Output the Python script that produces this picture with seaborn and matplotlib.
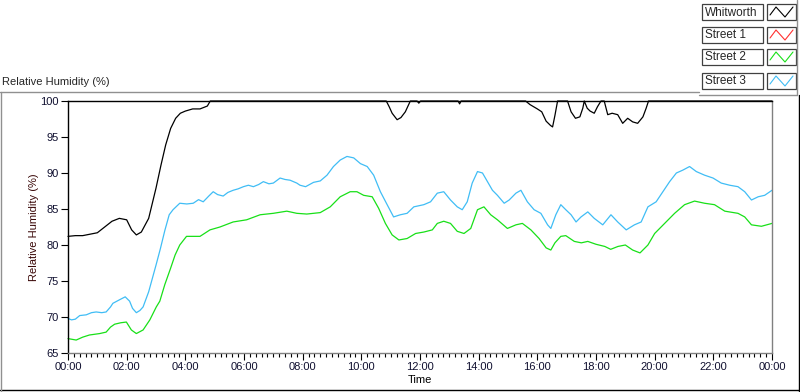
import matplotlib
matplotlib.use("Agg")
import matplotlib.pyplot as plt
import seaborn as sns
from matplotlib.lines import Line2D
from matplotlib.patches import Rectangle
from matplotlib.ticker import MultipleLocator

# ---- data (time in hours, humidity in %) ----
whit_t = [0, 0.25, 0.5, 0.75, 1.0, 1.25, 1.5, 1.75, 2.0, 2.17, 2.33, 2.5, 2.75, 3.0,
          3.17, 3.33, 3.5, 3.67, 3.83, 4.0, 4.25, 4.5, 4.75, 4.85, 10.85, 10.95, 11.05,
          11.22, 11.35, 11.5, 11.67, 11.9, 11.96, 12.02, 13.3, 13.35, 13.4, 15.6, 15.75,
          16.0, 16.15, 16.3, 16.45, 16.52, 16.6, 16.69, 17.03, 17.15, 17.3, 17.45, 17.55,
          17.6, 17.7, 17.8, 17.94, 18.05, 18.17, 18.28, 18.4, 18.55, 18.74, 18.91, 19.08,
          19.25, 19.42, 19.6, 19.71, 19.79, 24]
whit_v = [81.2, 81.3, 81.3, 81.5, 81.7, 82.5, 83.3, 83.7, 83.5, 82.1, 81.4, 81.8, 83.7, 87.9,
          91.1, 93.9, 96.2, 97.6, 98.3, 98.6, 98.9, 98.9, 99.3, 100, 100, 99.2, 98.3,
          97.4, 97.7, 98.5, 100, 100, 99.7, 100, 100, 99.6, 100, 100, 99.5,
          98.9, 98.5, 97.2, 96.6, 96.4, 98.0, 100, 100, 98.5, 97.6, 97.8, 99.0,
          100, 99.0, 98.6, 98.3, 99.2, 100, 100, 98.1, 98.3, 98.1, 96.9, 97.6,
          97.1, 96.9, 97.8, 99.0, 100, 100]

street1_t = []
street1_v = []

street2_t = [0, 0.28, 0.5, 0.73, 1.08, 1.3, 1.45, 1.59, 1.8, 1.99, 2.16, 2.33, 2.56, 2.79,
             3.01, 3.13, 3.3, 3.5, 3.65, 3.81, 4.04, 4.5, 4.84, 5.18, 5.63, 6.09, 6.55,
             7.0, 7.46, 7.8, 8.14, 8.6, 8.94, 9.28, 9.62, 9.85, 10.08, 10.37, 10.59,
             10.82, 11.05, 11.28, 11.56, 11.85, 12.13, 12.42, 12.59, 12.81, 13.04, 13.27,
             13.5, 13.73, 13.96, 14.18, 14.41, 14.64, 14.98, 15.27, 15.49, 15.78, 16.06,
             16.3, 16.46, 16.6, 16.8, 16.97, 17.26, 17.5, 17.72, 18.0, 18.3, 18.5, 18.75,
             19.0, 19.25, 19.5, 19.77, 20.0, 20.34, 20.68, 21.02, 21.36, 21.7, 22.04,
             22.39, 22.84, 23.07, 23.3, 23.64, 24]
street2_v = [67.0, 66.8, 67.2, 67.5, 67.7, 67.9, 68.6, 69.0, 69.2, 69.3, 68.2, 67.7, 68.2, 69.6,
             71.4, 72.2, 74.5, 76.8, 78.6, 80.0, 81.2, 81.2, 82.1, 82.5, 83.2, 83.5, 84.2,
             84.4, 84.7, 84.4, 84.3, 84.5, 85.3, 86.7, 87.4, 87.4, 86.9, 86.7, 85.1,
             83.0, 81.4, 80.7, 80.9, 81.6, 81.8, 82.1, 83.0, 83.3, 83.0, 81.9,
             81.6, 82.3, 84.9, 85.3, 84.2, 83.5, 82.3, 82.8, 83.0, 82.1, 80.9,
             79.6, 79.3, 80.3, 81.2, 81.3, 80.5, 80.3, 80.5, 80.1, 79.8, 79.4, 79.8,
             80.0, 79.3, 78.9, 80.0, 81.6, 83.0, 84.4, 85.6, 86.1, 85.8, 85.6,
             84.7, 84.4, 83.9, 82.8, 82.6, 83.0]

street3_t = [0, 0.12, 0.25, 0.4, 0.62, 0.8, 0.96, 1.15, 1.3, 1.45, 1.53, 1.76, 1.95, 2.1, 2.2,
             2.33, 2.45, 2.56, 2.75, 3.0, 3.15, 3.3, 3.45, 3.58, 3.81, 4.05, 4.27, 4.45,
             4.61, 4.8, 4.95, 5.1, 5.29, 5.45, 5.63, 5.8, 5.98, 6.15, 6.32, 6.5, 6.66,
             6.85, 7.0, 7.23, 7.4, 7.57, 7.8, 7.91, 8.1, 8.37, 8.6, 8.83, 9.05, 9.28,
             9.51, 9.74, 9.97, 10.2, 10.42, 10.65, 10.88, 11.1, 11.33, 11.56, 11.79,
             12.13, 12.36, 12.59, 12.81, 13.04, 13.27, 13.44, 13.61, 13.78, 13.96, 14.13,
             14.3, 14.47, 14.64, 14.87, 15.04, 15.27, 15.44, 15.66, 15.89, 16.12, 16.35,
             16.46, 16.63, 16.8, 16.97, 17.15, 17.32, 17.49, 17.72, 17.94, 18.23, 18.51,
             18.74, 19.03, 19.31, 19.54, 19.77, 20.05, 20.28, 20.51, 20.74, 20.96, 21.19,
             21.42, 21.7, 21.99, 22.27, 22.56, 22.84, 23.07, 23.3, 23.53, 23.75, 24]
street3_v = [69.8, 69.6, 69.7, 70.2, 70.3, 70.6, 70.7, 70.6, 70.7, 71.4, 71.9, 72.4, 72.8, 72.2, 71.2,
             70.6, 70.9, 71.4, 73.5, 77.2, 79.5, 82.0, 84.2, 84.9, 85.8, 85.7, 85.8, 86.3,
             86.0, 86.8, 87.4, 87.0, 86.8, 87.3, 87.6, 87.8, 88.1, 88.3, 88.1, 88.4, 88.8,
             88.5, 88.6, 89.3, 89.1, 89.0, 88.6, 88.3, 88.1, 88.7, 88.9, 89.7, 90.9, 91.8,
             92.3, 92.1, 91.3, 90.9, 89.7, 87.4, 85.6, 83.9, 84.2, 84.4, 85.3,
             85.6, 86.0, 87.2, 87.4, 86.25, 85.3, 84.9, 86.0, 88.6, 90.2, 90.0,
             88.8, 87.6, 86.9, 85.8, 86.25, 87.2, 87.6, 86.0, 84.9, 84.4, 82.8,
             82.3, 84.2, 85.6, 84.9, 84.2, 83.2, 83.9, 84.6, 83.7, 82.8, 84.2,
             83.2, 82.1, 82.8, 83.2, 85.3, 86.0, 87.4, 88.8, 90.0, 90.4, 90.9,
             90.2, 89.7, 89.3, 88.6, 88.3, 88.1, 87.4, 86.25, 86.7, 86.9, 87.6]

series_names = ["Whitworth", "Street 1", "Street 2", "Street 3"]
series_colors = ["#000000", "#ff3030", "#18e018", "#40bdf5"]
tick_hours = list(range(0, 25, 2))
tick_labels = ["00:00", "02:00", "04:00", "06:00", "08:00", "10:00", "12:00",
               "14:00", "16:00", "18:00", "20:00", "22:00", "00:00"]

sns.set_style("white")
plt.rcParams["font.family"] = ["Liberation Sans", "DejaVu Sans"]
plt.rcParams["font.size"] = 8

W, H = 800, 392
fig = plt.figure(figsize=(W / 100, H / 100), dpi=100)
ax = fig.add_axes([68 / W, 1 - 353 / H, (772 - 68) / W, (353 - 101) / H])


def px(x, y):
    return x / W, 1 - y / H


data = [(street3_t, street3_v), (street2_t, street2_v), (street1_t, street1_v), (whit_t, whit_v)]
colors = [series_colors[3], series_colors[2], series_colors[1], series_colors[0]]
for (t, v), c in zip(data, colors):
    if len(t):
        sns.lineplot(x=t, y=v, ax=ax, color=c, linewidth=0.9, sort=False,
                     estimator=None, clip_on=False)

ax.set_xlim(0, 24)
ax.set_ylim(65, 100)
ax.set_xticks(tick_hours)
ax.set_xticklabels(tick_labels)
ax.xaxis.set_minor_locator(MultipleLocator(0.2))
ax.set_yticks(range(65, 101, 5))
ax.tick_params(axis="both", which="major", direction="out", length=5, width=0.8,
               color="black", labelcolor="#101030", labelsize=8, pad=1.5)
ax.tick_params(axis="x", which="minor", direction="out", length=3, width=0.8,
               color="black", bottom=True)
ax.tick_params(axis="x", which="major", bottom=True)
ax.tick_params(axis="y", which="major", left=True)

ax.spines["left"].set_color("black")
ax.spines["top"].set_color("black")
ax.spines["bottom"].set_color("#808080")
ax.spines["right"].set_color("#808080")
for s in ax.spines.values():
    s.set_linewidth(1.0)

ax.set_xlabel("Time", fontsize=8, color="black", labelpad=2)
ax.set_ylabel("Relative Humidity (%)", fontsize=8, color="#3a0808", labelpad=1)

# chart title and frame lines
fig.text(*px(2, 82), "Relative Humidity (%)", fontsize=8, ha="left", va="center")
frame = [((0, 92), (699, 92), "#909090"), ((699, 95), (797, 95), "#909090"),
         ((797, 0), (797, 95), "#909090"), ((799, 95), (799, 392), "black"),
         ((0, 390), (799, 390), "black"), ((1, 92), (1, 392), "#909090")]
for (x0, y0), (x1, y1), c in frame:
    a, b = px(x0, y0)
    d, e = px(x1, y1)
    fig.add_artist(Line2D([a, d], [b, e], color=c, linewidth=1.0))

# legend boxes
box_tops = [4, 27, 49, 73]
for name, c, top in zip(series_names, series_colors, box_tops):
    x0, y0 = px(702, top + 16)
    fig.add_artist(Rectangle((x0, y0), 61 / W, 16 / H, facecolor="white",
                             edgecolor="#404040", linewidth=0.9))
    fig.text(*px(705, top + 8.5), name, fontsize=8.5, ha="left", va="center")
    ix, iy = px(767, top + 16)
    fig.add_artist(Rectangle((ix, iy), 29 / W, 16 / H, facecolor="white",
                             edgecolor="#404040", linewidth=0.9))
    zx = [770, 776, 785, 793]
    zy = [top + 11, top + 3, top + 13, top + 3]
    fig.add_artist(Line2D([p / W for p in zx], [1 - q / H for q in zy],
                          color=c, linewidth=0.8))

fig.savefig("out.png", dpi=100)
